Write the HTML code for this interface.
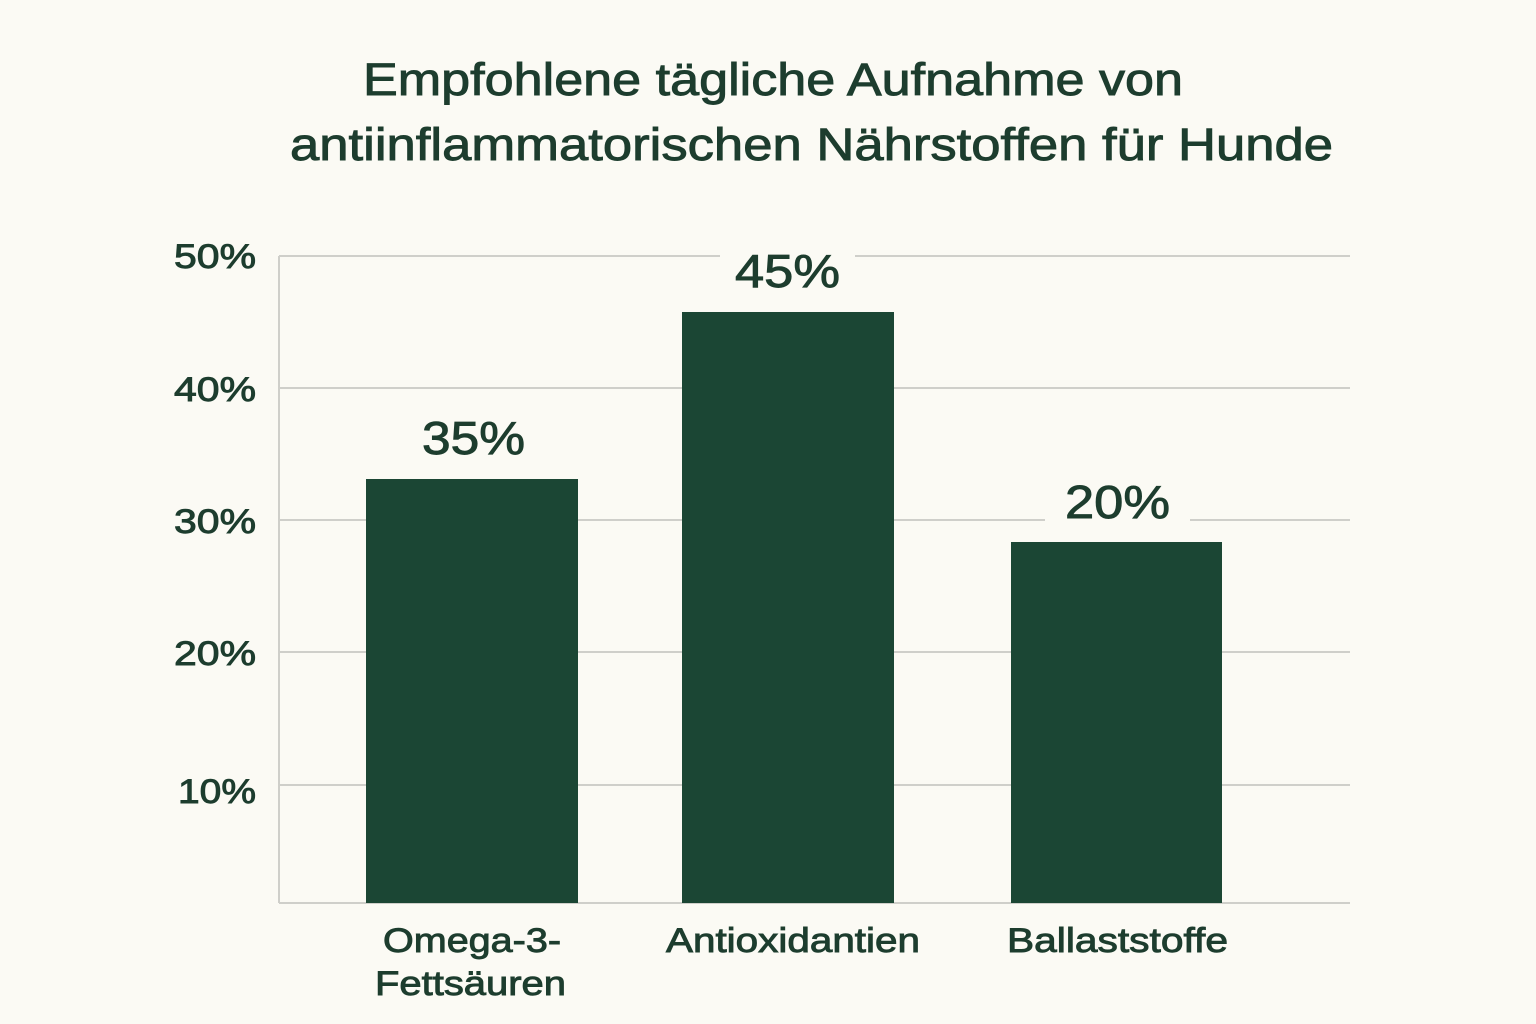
<!DOCTYPE html>
<html><head><meta charset="utf-8"><style>
html,body{margin:0;padding:0;background:#fbfaf4;}
svg{display:block}
text{font-family:"Liberation Sans","DejaVu Sans",sans-serif;fill:#1d3d2e;stroke:#1d3d2e;stroke-width:0.9}
</style></head><body>
<svg width="1536" height="1024" viewBox="0 0 1536 1024">
<rect width="1536" height="1024" fill="#fbfaf4"/>
<text x="363" y="95" font-size="45" textLength="820" lengthAdjust="spacingAndGlyphs">Empfohlene tägliche Aufnahme von</text>
<text x="290" y="160" font-size="45" textLength="1043" lengthAdjust="spacingAndGlyphs">antiinflammatorischen Nährstoffen für Hunde</text>
<g stroke="#cfcfca" stroke-width="2">
<line x1="279" y1="256" x2="1350" y2="256"/>
<line x1="279" y1="388" x2="1350" y2="388"/>
<line x1="279" y1="520" x2="1350" y2="520"/>
<line x1="279" y1="652" x2="1350" y2="652"/>
<line x1="279" y1="785" x2="1350" y2="785"/>
<line x1="279" y1="903" x2="1350" y2="903"/>
<line x1="279" y1="256" x2="279" y2="903"/>
</g>
<g font-size="34">
<text x="174" y="268" textLength="82" lengthAdjust="spacingAndGlyphs">50%</text>
<text x="174" y="401" textLength="82" lengthAdjust="spacingAndGlyphs">40%</text>
<text x="174" y="533" textLength="82" lengthAdjust="spacingAndGlyphs">30%</text>
<text x="174" y="665" textLength="82" lengthAdjust="spacingAndGlyphs">20%</text>
<text x="178" y="803" textLength="78" lengthAdjust="spacingAndGlyphs">10%</text>
</g>
<g fill="#1b4634">
<rect x="366" y="479" width="212" height="424"/>
<rect x="682" y="312" width="212" height="591"/>
<rect x="1011" y="542" width="211" height="361"/>
</g>
<rect x="720" y="245" width="135" height="30" fill="#fbfaf4"/>
<rect x="1045" y="505" width="145" height="30" fill="#fbfaf4"/>
<g font-size="46">
<text x="422" y="454" textLength="103" lengthAdjust="spacingAndGlyphs">35%</text>
<text x="735" y="287" textLength="105" lengthAdjust="spacingAndGlyphs">45%</text>
<text x="1065" y="518" textLength="105" lengthAdjust="spacingAndGlyphs">20%</text>
</g>
<g font-size="34">
<text x="383" y="952" textLength="178" lengthAdjust="spacingAndGlyphs">Omega-3-</text>
<text x="375" y="995" textLength="191" lengthAdjust="spacingAndGlyphs">Fettsäuren</text>
<text x="666" y="952" textLength="254" lengthAdjust="spacingAndGlyphs">Antioxidantien</text>
<text x="1007" y="952" textLength="221" lengthAdjust="spacingAndGlyphs">Ballaststoffe</text>
</g>
</svg>
</body></html>
